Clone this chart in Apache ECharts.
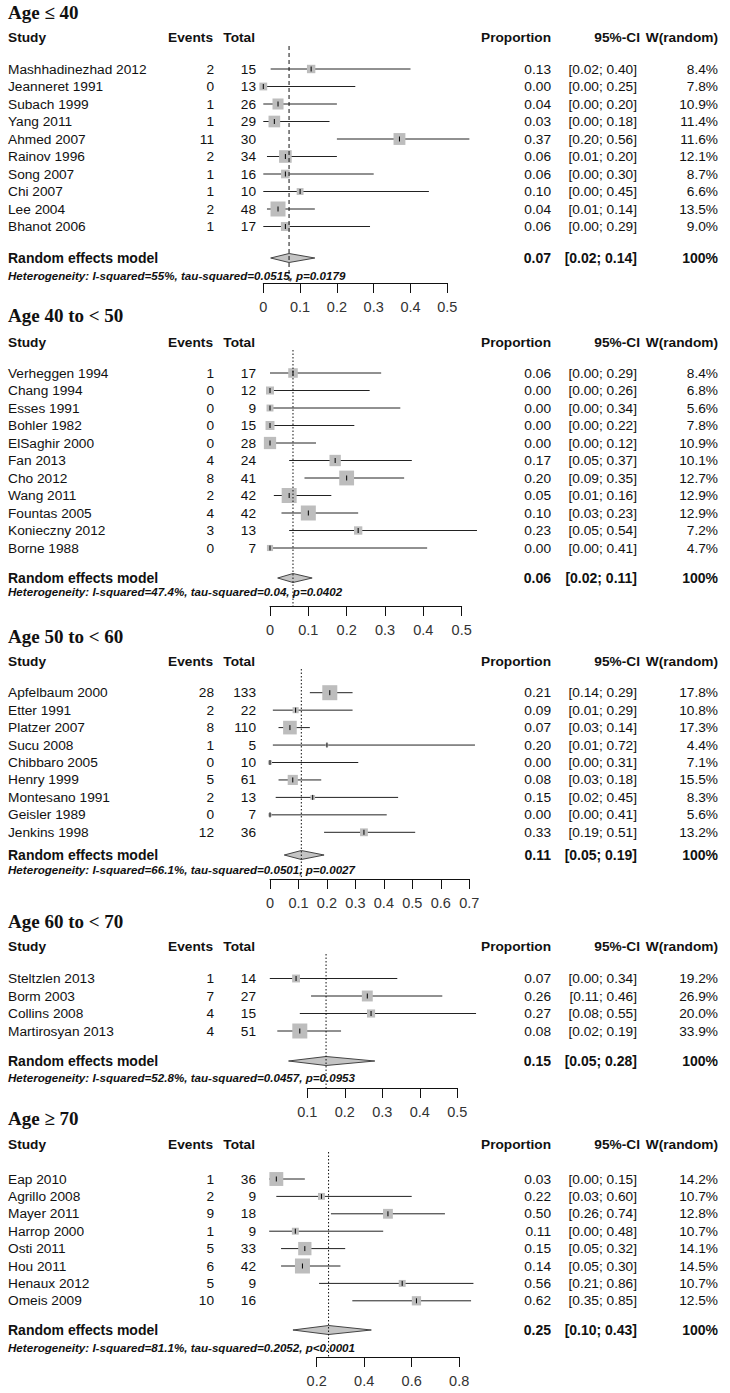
<!DOCTYPE html>
<html><head><meta charset="utf-8">
<script src="https://cdn.jsdelivr.net/npm/echarts@6.0.0/dist/echarts.min.js"></script>
<style>html,body{margin:0;padding:0;background:#fff}#c{width:730px;height:1393px}</style>
</head><body><div id="c"></div>
<script>
// ---------------- DATA ----------------
const titles = ['Age \u2264 40', 'Age 40 to < 50', 'Age 50 to < 60', 'Age 60 to < 70', 'Age \u2265 70'];

const studies40 = ['Mashhadinezhad 2012','Jeanneret 1991','Subach 1999','Yang 2011','Ahmed 2007','Rainov 1996','Song 2007','Chi 2007','Lee 2004','Bhanot 2006'];
const events40  = [2,0,1,1,11,2,1,1,2,1];
const totals40  = [15,13,26,29,30,34,16,10,48,17];
const prop40    = [0.13,0.00,0.04,0.03,0.37,0.06,0.06,0.10,0.04,0.06];
const lower40   = [0.02,0.00,0.00,0.00,0.20,0.01,0.00,0.00,0.01,0.00];
const upper40   = [0.40,0.25,0.20,0.18,0.56,0.20,0.30,0.45,0.14,0.29];
const weight40  = [8.4,7.8,10.9,11.4,11.6,12.1,8.7,6.6,13.5,9.0];
const ticks40   = [0,0.1,0.2,0.3,0.4,0.5];

const studies4050 = ['Verheggen 1994','Chang 1994','Esses 1991','Bohler 1982','ElSaghir 2000','Fan 2013','Cho 2012','Wang 2011','Fountas 2005','Konieczny 2012','Borne 1988'];
const events4050  = [1,0,0,0,0,4,8,2,4,3,0];
const totals4050  = [17,12,9,15,28,24,41,42,42,13,7];
const prop4050    = [0.06,0.00,0.00,0.00,0.00,0.17,0.20,0.05,0.10,0.23,0.00];
const lower4050   = [0.00,0.00,0.00,0.00,0.00,0.05,0.09,0.01,0.03,0.05,0.00];
const upper4050   = [0.29,0.26,0.34,0.22,0.12,0.37,0.35,0.16,0.23,0.54,0.41];
const weight4050  = [8.4,6.8,5.6,7.8,10.9,10.1,12.7,12.9,12.9,7.2,4.7];
const ticks4050   = [0,0.1,0.2,0.3,0.4,0.5];

const studies5060 = ['Apfelbaum 2000','Etter 1991','Platzer 2007','Sucu 2008','Chibbaro 2005','Henry 1999','Montesano 1991','Geisler 1989','Jenkins 1998'];
const events5060  = [28,2,8,1,0,5,2,0,12];
const totals5060  = [133,22,110,5,10,61,13,7,36];
const prop5060    = [0.21,0.09,0.07,0.20,0.00,0.08,0.15,0.00,0.33];
const lower5060   = [0.14,0.01,0.03,0.01,0.00,0.03,0.02,0.00,0.19];
const upper5060   = [0.29,0.29,0.14,0.72,0.31,0.18,0.45,0.41,0.51];
const weight5060  = [17.8,10.8,17.3,4.4,7.1,15.5,8.3,5.6,13.2];
const ticks5060   = [0,0.1,0.2,0.3,0.4,0.5,0.6,0.7];

const studies6070 = ['Steltzlen 2013','Borm 2003','Collins 2008','Martirosyan 2013'];
const events6070  = [1,7,4,4];
const totals6070  = [14,27,15,51];
const prop6070    = [0.07,0.26,0.27,0.08];
const lower6070   = [0.00,0.11,0.08,0.02];
const upper6070   = [0.34,0.46,0.55,0.19];
const weight6070  = [19.2,26.9,20.0,33.9];
const ticks6070   = [0.1,0.2,0.3,0.4,0.5];

const studies70 = ['Eap 2010','Agrillo 2008','Mayer 2011','Harrop 2000','Osti 2011','Hou 2011','Henaux 2012','Omeis 2009'];
const events70  = [1,2,9,1,5,6,5,10];
const totals70  = [36,9,18,9,33,42,9,16];
const prop70    = [0.03,0.22,0.50,0.11,0.15,0.14,0.56,0.62];
const lower70   = [0.00,0.03,0.26,0.00,0.05,0.05,0.21,0.35];
const upper70   = [0.15,0.60,0.74,0.48,0.32,0.30,0.86,0.85];
const weight70  = [14.2,10.7,12.8,10.7,14.1,14.5,10.7,12.5];
const ticks70   = [0.2,0.4,0.6,0.8];

const summaryProp  = [0.07,0.06,0.11,0.15,0.25];
const summaryLower = [0.02,0.02,0.05,0.05,0.10];
const summaryUpper = [0.14,0.11,0.19,0.28,0.43];
const heterogeneity = [
  'Heterogeneity: I-squared=55%, tau-squared=0.0515, p=0.0179',
  'Heterogeneity: I-squared=47.4%, tau-squared=0.04, p=0.0402',
  'Heterogeneity: I-squared=66.1%, tau-squared=0.0501, p=0.0027',
  'Heterogeneity: I-squared=52.8%, tau-squared=0.0457, p=0.0953',
  'Heterogeneity: I-squared=81.1%, tau-squared=0.2052, p<0.0001'
];
const headers = ['Study','Events','Total','Proportion','95%-CI','W(random)'];

// ---------------- LAYOUT ----------------
const panels = [
  {studies:studies40, events:events40, totals:totals40, prop:prop40, lo:lower40, hi:upper40, w:weight40, ticks:ticks40},
  {studies:studies4050, events:events4050, totals:totals4050, prop:prop4050, lo:lower4050, hi:upper4050, w:weight4050, ticks:ticks4050},
  {studies:studies5060, events:events5060, totals:totals5060, prop:prop5060, lo:lower5060, hi:upper5060, w:weight5060, ticks:ticks5060},
  {studies:studies6070, events:events6070, totals:totals6070, prop:prop6070, lo:lower6070, hi:upper6070, w:weight6070, ticks:ticks6070},
  {studies:studies70, events:events70, totals:totals70, prop:prop70, lo:lower70, hi:upper70, w:weight70, ticks:ticks70}
];
const LAYOUT = [
  {title:12,   header:37,   top:46,   row0:69,    step:17.5,  sum:258,  het:275,  axis:283,  x0:263.3, unit:368,   dash:[4,3]},
  {title:315,  header:342,  top:350,  row0:373,   step:17.5,  sum:578,  het:591,  axis:606,  x0:270,   unit:383.3, dash:[1.5,2]},
  {title:636,  header:661,  top:669,  row0:692.7, step:17.45, sum:855,  het:869,  axis:879,  x0:270,   unit:284.7, dash:[1.5,2]},
  {title:921,  header:946,  top:954,  row0:978.5, step:17.5,  sum:1061, het:1077, axis:1088, x0:269.8, unit:375,   dash:[1.5,2]},
  {title:1118, header:1144, top:1152, row0:1179,  step:17.4,  sum:1330, het:1347, axis:1357, x0:269.2, unit:237.5, dash:[1.5,2]}
];
const COL = {study:8, events:214, total:256, prop:551, ci:637, w:718};
const HCOL = [[8,'left'],[213,'right'],[255,'right'],[551,'right'],[640,'right'],[718,'right']];
const SANS = '"Liberation Sans", Arial, Helvetica, sans-serif';
const SERIF = '"Liberation Serif", "Times New Roman", serif';
const TXT = '#111';
const FS = 13.7;

function txt(s, x, y, align, size, weight, style, family) {
  return {type:'text', x:x, y:y, silent:true,
    style:{text:s, align:align, verticalAlign:'middle', fill:TXT,
      fontSize:size||FS, fontWeight:weight||'normal', fontStyle:style||'normal', fontFamily:family||SANS}};
}
function ci(lo, hi){ return '[' + lo.toFixed(2) + '; ' + hi.toFixed(2) + ']'; }

const grid=[], xAxis=[], yAxis=[], series=[], graphic=[];

panels.forEach(function(p, k){
  const g = LAYOUT[k];
  const tmin = p.ticks[0], tmax = p.ticks[p.ticks.length-1];
  const ymin = -(g.row0 - g.top)/g.step, ymax = (g.axis - g.row0)/g.step;
  const sumRow = (g.sum - g.row0)/g.step, hetRow = (g.het - g.row0)/g.step;
  const nmax = Math.max.apply(null, p.totals);

  grid.push({left: g.x0 + g.unit*tmin, width: g.unit*(tmax - tmin), top: g.top, height: g.axis - g.top,
    containLabel:false, outerBoundsMode:'none'});
  xAxis.push({gridIndex:k, type:'value', min:tmin, max:tmax, interval: +(p.ticks[1]-p.ticks[0]).toFixed(4),
    position:'bottom',
    axisLine:{show:true, onZero:false, lineStyle:{color:'#111', width:1}},
    axisTick:{show:true, length:10, lineStyle:{color:'#111', width:1}},
    axisLabel:{margin:16, fontSize:14.5, color:'#333', fontFamily:SANS, hideOverlap:false},
    splitLine:{show:false}});
  yAxis.push({gridIndex:k, type:'value', inverse:true, min:ymin, max:ymax, show:false});

  // title + header
  graphic.push(txt(titles[k], 8, g.title, 'left', 19, 'bold', 'normal', SERIF));
  headers.forEach(function(h, j){ graphic.push(txt(h, HCOL[j][0], g.header, HCOL[j][1], FS, 'bold')); });

  // studies
  series.push({type:'custom', xAxisIndex:k, yAxisIndex:k, silent:true, clip:false, animation:false,
    data: p.prop.map(function(v, i){ return [v, p.lo[i], p.hi[i], i]; }),
    renderItem: function(params, api){
      const i = params.dataIndex;
      const row = api.value(3);
      const a = api.coord([api.value(1), row]), b = api.coord([api.value(2), row]), c = api.coord([api.value(0), row]);
      const y = c[1];
      const side = 15*Math.sqrt(p.totals[i]/nmax);
      return {type:'group', children:[
        {type:'line', shape:{x1:a[0], y1:y, x2:b[0], y2:y}, style:{stroke:'#222', lineWidth:1}},
        {type:'rect', shape:{x:c[0]-side/2, y:y-side/2, width:side, height:side}, style:{fill:'#bdbdbd'}},
        {type:'line', shape:{x1:c[0], y1:y-2.5, x2:c[0], y2:y+2.5}, style:{stroke:'#000', lineWidth:1}},
        txt(p.studies[i], COL.study, y, 'left'),
        txt(String(p.events[i]), COL.events, y, 'right'),
        txt(String(p.totals[i]), COL.total, y, 'right'),
        txt(api.value(0).toFixed(2), COL.prop, y, 'right'),
        txt(ci(api.value(1), api.value(2)), COL.ci, y, 'right'),
        txt(p.w[i].toFixed(1) + '%', COL.w, y, 'right')
      ]};
    }
  });

  // summary: diamond, reference line, texts
  series.push({type:'custom', xAxisIndex:k, yAxisIndex:k, silent:true, clip:false, animation:false, z:3,
    data: [[summaryProp[k], summaryLower[k], summaryUpper[k], sumRow]],
    renderItem: function(params, api){
      const est = api.value(0), lo = api.value(1), hi = api.value(2), row = api.value(3);
      const L = api.coord([lo, row]), R = api.coord([hi, row]), C = api.coord([est, row]);
      const t = api.coord([est, ymin]), bt = api.coord([est, ymax]);
      const hy = api.coord([est, hetRow])[1];
      const y = C[1];
      return {type:'group', children:[
        {type:'polygon', shape:{points:[[L[0],y],[C[0],y-4.5],[R[0],y],[C[0],y+4.5]]},
          style:{fill:'#c4c4c4', stroke:'#444', lineWidth:1}},
        {type:'line', shape:{x1:t[0], y1:t[1], x2:bt[0], y2:bt[1]},
          style:{stroke:'#111', lineWidth:1, lineDash:LAYOUT[k].dash}},
        txt('Random effects model', COL.study, y, 'left', 14, 'bold'),
        txt(est.toFixed(2), COL.prop, y, 'right', 14, 'bold'),
        txt(ci(lo, hi), COL.ci, y, 'right', 14, 'bold'),
        txt('100%', COL.w, y, 'right', 14, 'bold'),
        txt(heterogeneity[k], COL.study, hy, 'left', 11.6, 'bold', 'italic')
      ]};
    }
  });
});

const chart = echarts.init(document.getElementById('c'), null, {renderer:'svg'});
chart.setOption({animation:false, backgroundColor:'#fff', grid:grid, xAxis:xAxis, yAxis:yAxis, series:series, graphic:graphic});
</script></body></html>
